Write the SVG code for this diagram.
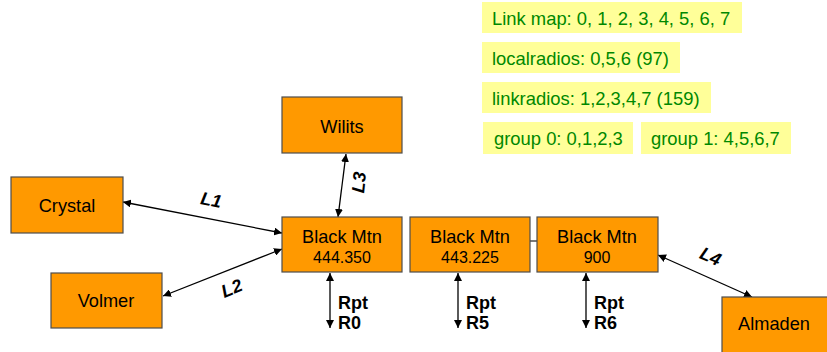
<svg xmlns="http://www.w3.org/2000/svg" width="827" height="352" viewBox="0 0 827 352">
<defs>
<style>
.note rect{fill:#FFFF99;stroke:none}
.note text{fill:#008800;font-family:"Liberation Sans",Arial,sans-serif;font-size:18.4px}
.node rect{fill:#FF9900;stroke:#4d4d4d;stroke-width:1.2}
.node text{fill:#000;font-family:"Liberation Sans",Arial,sans-serif;font-size:18.2px;text-anchor:middle}
.node text.f{font-size:16px}
.conn line{stroke:#000;stroke-width:1.3;marker-start:url(#ah);marker-end:url(#ah)}
.lbl{font-family:"Liberation Sans",Arial,sans-serif;font-weight:bold;font-size:18px;fill:#000}
.it{font-style:italic;text-anchor:middle}
</style>
<marker id="ah" viewBox="0 0 10 10" refX="10" refY="5" markerWidth="8" markerHeight="8" markerUnits="userSpaceOnUse" orient="auto-start-reverse">
<path d="M0,0 L10,5 L0,10 z" fill="#000"/>
</marker>
</defs>
<rect width="827" height="352" fill="#fff"/>
<g id="note-linkmap" class="note"><rect x="482" y="2" width="260" height="31"/><text x="492" y="25">Link map: 0, 1, 2, 3, 4, 5, 6, 7</text></g>
<g id="note-localradios" class="note"><rect x="482" y="42" width="198" height="31"/><text x="492" y="65">localradios: 0,5,6 (97)</text></g>
<g id="note-linkradios" class="note"><rect x="482" y="82" width="229" height="31"/><text x="492" y="105">linkradios: 1,2,3,4,7 (159)</text></g>
<g id="note-group0" class="note"><rect x="483" y="122" width="150" height="32"/><text x="494" y="145">group 0: 0,1,2,3</text></g>
<g id="note-group1" class="note"><rect x="641" y="122" width="150" height="32"/><text x="651" y="145">group 1: 4,5,6,7</text></g>

<g id="connectors">
<g class="conn">
<line x1="123" y1="202" x2="282" y2="233"/>
<line x1="163" y1="296" x2="282" y2="249"/>
<line x1="346" y1="154" x2="338" y2="217"/>
<line x1="658" y1="255" x2="752" y2="297"/>
<line x1="330" y1="273" x2="330" y2="328"/>
<line x1="458" y1="273" x2="458" y2="328"/>
<line x1="586" y1="273" x2="586" y2="328"/>
</g>
<line x1="530" y1="241" x2="537" y2="241" stroke="#4d4d4d" stroke-width="1.5"/>
<text class="lbl it" transform="translate(210,206) rotate(11)">L1</text>
<text class="lbl it" transform="translate(234,294) rotate(-22)">L2</text>
<text class="lbl it" transform="translate(365,183) rotate(-84)">L3</text>
<text class="lbl it" transform="translate(708,262) rotate(24)">L4</text>
<text class="lbl" x="338" y="309">Rpt</text><text class="lbl" x="338" y="329">R0</text>
<text class="lbl" x="466" y="309">Rpt</text><text class="lbl" x="466" y="329">R5</text>
<text class="lbl" x="594" y="309">Rpt</text><text class="lbl" x="594" y="329">R6</text>
</g>

<g id="wilits" class="node"><rect x="282" y="97" width="120" height="56"/><text x="342" y="133">Wilits</text></g>
<g id="crystal" class="node"><rect x="11" y="177" width="112" height="56"/><text x="67" y="212">Crystal</text></g>
<g id="volmer" class="node"><rect x="51" y="273" width="111" height="55"/><text x="106" y="307">Volmer</text></g>
<g id="blackmtn-444" class="node"><rect x="282" y="217" width="120" height="55"/><text x="342" y="243">Black Mtn</text><text class="f" x="342" y="263">444.350</text></g>
<g id="blackmtn-443" class="node"><rect x="410" y="217" width="120" height="55"/><text x="470" y="243">Black Mtn</text><text class="f" x="470" y="263">443.225</text></g>
<g id="blackmtn-900" class="node"><rect x="537" y="217" width="121" height="55"/><text x="597" y="243">Black Mtn</text><text class="f" x="597" y="263">900</text></g>
<g id="almaden" class="node"><rect x="722" y="297" width="112" height="60"/><text x="774" y="330">Almaden</text></g>
</svg>
